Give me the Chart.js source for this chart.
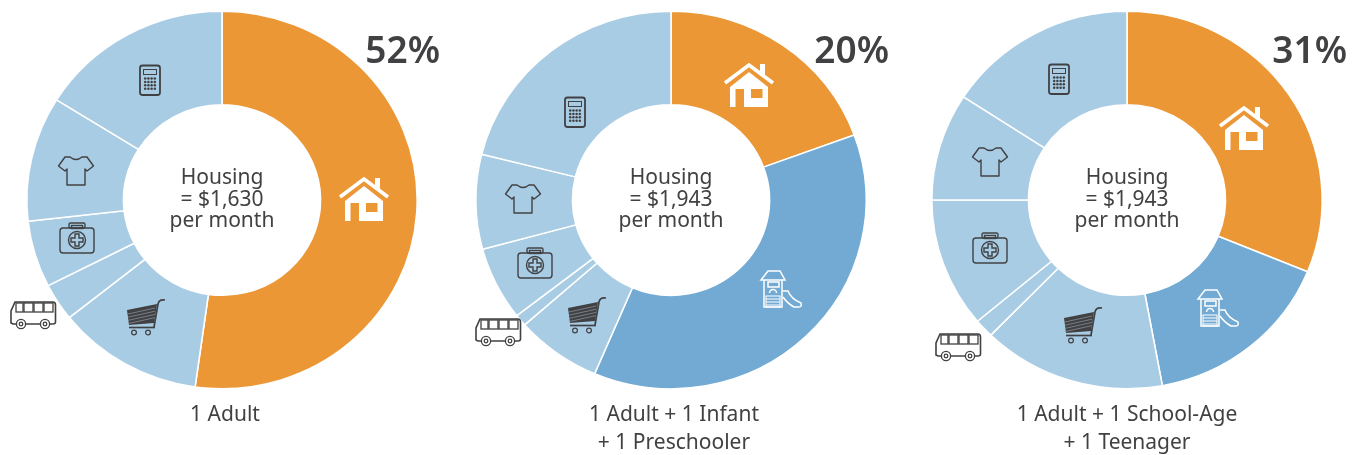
<!DOCTYPE html>
<html>
<head>
<meta charset="utf-8">
<script src="https://cdn.jsdelivr.net/npm/chart.js"></script>
<style>
    html, body { margin: 0; background: #fff; }
    #wrap { position: relative; width: 1361px; height: 455px; overflow: hidden; }
    canvas { position: absolute; top: 0; }
</style>
</head>
<body>
<div id="wrap">
    <canvas id="c0" style="left:0"></canvas>
    <canvas id="c1" style="left:449px"></canvas>
    <canvas id="c2" style="left:905px"></canvas>
</div>
<script>
const categories = ["Housing", "Child care", "Food", "Transportation", "Health care", "Clothing", "Other"];

// share of monthly budget, percent, clockwise from 12 o'clock
const oneAdult = [52.2, 0, 12.1, 3.2, 5.7, 10.7, 16.1];
const adultInfantPreschooler = [19.4, 37.0, 7.1, 1.0, 6.3, 8.1, 21.1];
const adultSchoolTeen = [31.2, 15.9, 15.2, 1.6, 11.1, 9.2, 15.8];

const housingPercent = ["52%", "20%", "31%"];
const housingCost = ["= $1,630", "= $1,943", "= $1,943"];
const captions = [["1 Adult"], ["1 Adult + 1 Infant", "+ 1 Preschooler"], ["1 Adult + 1 School-Age", "+ 1 Teenager"]];

const ORANGE = "#EB9735";
const LIGHT = "#A9CCE5";
const MID = "#72AAD3";
const INK = "#414143";
const FONT = '"Noto Sans", sans-serif';

// the original rings are slightly wider than tall
const STRETCH_X = 1.034;
// Noto Sans runs wider than the original face
const TEXT_SQUEEZE = 0.955;

// icon anchors, px from the doughnut centre (hand placed in the original too)
const iconSpots = [
    { house: [142, -1], cart: [-76, 117], bus: [-189, 114], med: [-145, 38], shirt: [-146, -29], calc: [-72, -120] },
    { house: [78, -115], play: [110, 89], cart: [-84, 115], bus: [-173, 131], med: [-136, 63], shirt: [-148, -1], calc: [-96, -88] },
    { house: [117, -72], play: [91, 108], cart: [-44, 125], bus: [-169, 146], med: [-137, 48], shirt: [-137, -38], calc: [-68, -121] }
];
const captionShift = [3, 3, 0];
const percentRight = [218, 218, 220];

function poly(ctx, pts, close) {
    ctx.beginPath();
    pts.forEach((p, i) => i ? ctx.lineTo(p[0], p[1]) : ctx.moveTo(p[0], p[1]));
    if (close) ctx.closePath();
}

function roundBox(ctx, x, y, w, h, r) {
    ctx.beginPath();
    ctx.roundRect(x, y, w, h, r);
}

function squeezedText(ctx, text, x, y) {
    ctx.save();
    ctx.translate(x, y);
    ctx.scale(TEXT_SQUEEZE, 1);
    ctx.fillText(text, 0, 0);
    ctx.restore();
}

const icons = {
    house(ctx) {
        ctx.fillStyle = "#fff";
        ctx.strokeStyle = "#fff";
        ctx.lineWidth = 3.6;
        poly(ctx, [[-24, -2], [0, -20], [24, -2]]);
        ctx.stroke();
        ctx.fillRect(11, -21, 5, 12);
        poly(ctx, [[-19, 2], [0, -13], [19, 2], [19, 22], [-19, 22]], true);
        ctx.fill();
        ctx.fillStyle = ORANGE;
        ctx.fillRect(-13.5, 4, 8.5, 18);
        ctx.fillRect(2, 4, 11.5, 9);
    },
    play(ctx) {
        ctx.strokeStyle = "#fff";
        ctx.lineWidth = 1.5;
        // roof and posts
        poly(ctx, [[-20, -9], [-13, -18], [-1, -18], [4, -9]], true);
        ctx.stroke();
        poly(ctx, [[-17, -9], [-17, 18], [1, 18], [1, -9]]);
        ctx.stroke();
        ctx.strokeRect(-13, -7, 11, 5);
        // lock arch and ladder
        ctx.beginPath();
        ctx.arc(-8, 4, 3.5, Math.PI, 0);
        ctx.stroke();
        ctx.lineWidth = 1;
        ctx.strokeRect(-15, 7, 14, 11);
        for (let y = 10; y <= 16; y += 3) {
            poly(ctx, [[-15, y], [-1, y]]);
            ctx.stroke();
        }
        // slide
        ctx.lineWidth = 1.5;
        ctx.beginPath();
        ctx.moveTo(2, 2);
        ctx.lineTo(7, 2);
        ctx.quadraticCurveTo(10, 10, 20, 14);
        ctx.quadraticCurveTo(21, 18, 18, 18);
        ctx.lineTo(13, 18);
        ctx.quadraticCurveTo(6, 14, 2, 8);
        ctx.stroke();
    },
    cart(ctx) {
        ctx.fillStyle = INK;
        ctx.strokeStyle = INK;
        poly(ctx, [[-19, -7], [11, -13], [8, 6], [-17, 8]], true);
        ctx.fill();
        ctx.strokeStyle = "#8c98a3";
        ctx.lineWidth = 0.7;
        for (let i = 0; i < 4; i++) {
            poly(ctx, [[-18, -3 + i * 3.2], [9, -9 + i * 3.2]]);
            ctx.stroke();
        }
        ctx.strokeStyle = INK;
        ctx.lineWidth = 1.7;
        ctx.beginPath();
        ctx.moveTo(8, 10);
        ctx.lineTo(12, -13);
        ctx.quadraticCurveTo(13, -18, 19, -17);
        ctx.stroke();
        poly(ctx, [[-17, 10.5], [9, 10.5]]);
        ctx.stroke();
        ctx.lineWidth = 1.2;
        [-12, 2].forEach(x => {
            ctx.beginPath();
            ctx.arc(x, 15.5, 2.4, 0, Math.PI * 2);
            ctx.stroke();
        });
    },
    bus(ctx) {
        ctx.strokeStyle = INK;
        ctx.fillStyle = "#fff";
        ctx.lineWidth = 1.6;
        ctx.beginPath();
        ctx.moveTo(-22, 9);
        ctx.lineTo(-22, -3);
        ctx.lineTo(-18, -12);
        ctx.lineTo(20, -12);
        ctx.quadraticCurveTo(22.5, -12, 22.5, -9);
        ctx.lineTo(22.5, 8);
        ctx.quadraticCurveTo(22.5, 10, 20, 10);
        ctx.lineTo(-20, 10);
        ctx.closePath();
        ctx.fill();
        ctx.stroke();
        ctx.lineWidth = 1.3;
        [[-17, 7], [-9, 9], [1, 9], [11, 9]].forEach(w => ctx.strokeRect(w[0], -11, w[1], 9));
        [-12, 12].forEach(x => {
            ctx.beginPath();
            ctx.arc(x, 10, 4.6, 0, Math.PI * 2);
            ctx.fill();
            ctx.stroke();
            ctx.beginPath();
            ctx.arc(x, 10, 1.8, 0, Math.PI * 2);
            ctx.stroke();
        });
    },
    med(ctx) {
        ctx.strokeStyle = INK;
        ctx.lineWidth = 1.4;
        roundBox(ctx, -17, -10, 34, 25, 3);
        ctx.stroke();
        roundBox(ctx, -8, -15, 16, 5, 1.5);
        ctx.stroke();
        ctx.strokeRect(-5.5, -12.5, 11, 3);
        ctx.beginPath();
        ctx.arc(0, 2, 8.5, 0, Math.PI * 2);
        ctx.stroke();
        poly(ctx, [[-2, -4], [2, -4], [2, 0], [6, 0], [6, 4], [2, 4], [2, 8], [-2, 8], [-2, 4], [-6, 4], [-6, 0], [-2, 0]], true);
        ctx.stroke();
    },
    shirt(ctx) {
        ctx.strokeStyle = INK;
        ctx.lineWidth = 1.4;
        ctx.lineJoin = "round";
        ctx.beginPath();
        ctx.moveTo(-6, -14);
        ctx.quadraticCurveTo(0, -9, 6, -14);
        ctx.lineTo(11, -14);
        ctx.lineTo(17.5, -5);
        ctx.lineTo(11, 0);
        ctx.lineTo(9, -2);
        ctx.lineTo(9, 14);
        ctx.lineTo(-9, 14);
        ctx.lineTo(-9, -2);
        ctx.lineTo(-11, 0);
        ctx.lineTo(-17.5, -5);
        ctx.lineTo(-11, -14);
        ctx.closePath();
        ctx.stroke();
    },
    calc(ctx) {
        ctx.strokeStyle = INK;
        ctx.fillStyle = INK;
        ctx.lineWidth = 1.8;
        roundBox(ctx, -10, -14.5, 20, 29.5, 2.5);
        ctx.stroke();
        ctx.lineWidth = 1;
        ctx.strokeRect(-6.5, -10.5, 13, 5);
        for (let r = 0; r < 4; r++) {
            for (let c = 0; c < 4; c++) {
                ctx.beginPath();
                ctx.arc(-4.8 + c * 3.2, -1.5 + r * 3.4, 1.25, 0, Math.PI * 2);
                ctx.fill();
            }
        }
    }
};

const labelPlugin = {
    id: "budgetLabels",
    beforeDatasetsDraw(chart) {
        const arc = chart.getDatasetMeta(0).data[0];
        const ctx = chart.ctx;
        ctx.save();
        ctx.translate(arc.x, arc.y);
        ctx.scale(STRETCH_X, 1);
        ctx.translate(-arc.x, -arc.y);
    },
    afterDatasetsDraw(chart, args, opts) {
        const ctx = chart.ctx;
        ctx.restore();
        const arc = chart.getDatasetMeta(0).data[0];
        const cx = arc.x, cy = arc.y;

        Object.keys(opts.spots).forEach(name => {
            ctx.save();
            ctx.translate(cx + opts.spots[name][0], cy + opts.spots[name][1]);
            icons[name](ctx);
            ctx.restore();
        });

        ctx.save();
        ctx.fillStyle = INK;
        ctx.textAlign = "center";
        ctx.textBaseline = "alphabetic";
        ctx.font = "22px " + FONT;
        squeezedText(ctx, categories[0], cx, cy - 16);
        squeezedText(ctx, opts.cost, cx, cy + 6);
        squeezedText(ctx, "per month", cx, cy + 27);
        opts.caption.forEach((line, i) => squeezedText(ctx, line, cx + opts.shift, cy + 221 + i * 28));
        ctx.textAlign = "right";
        ctx.font = "600 37px " + FONT;
        ctx.fillText(opts.percent, cx + opts.right, 63);
        ctx.restore();
    }
};

[oneAdult, adultInfantPreschooler, adultSchoolTeen].forEach((values, i) => {
    const canvas = document.getElementById("c" + i);
    canvas.width = 444;
    canvas.height = 455;
    new Chart(canvas, {
        type: "doughnut",
        data: {
            labels: categories,
            datasets: [{
                data: values,
                backgroundColor: [ORANGE, MID, LIGHT, LIGHT, LIGHT, LIGHT, LIGHT],
                borderColor: "#fff",
                borderWidth: 1.5
            }]
        },
        options: {
            responsive: false,
            animation: false,
            cutout: "50.5%",
            layout: { padding: { top: 10.5, bottom: 65.5, left: 0, right: 0 } },
            plugins: {
                legend: { display: false },
                tooltip: { enabled: false },
                budgetLabels: {
                    spots: iconSpots[i],
                    cost: housingCost[i],
                    caption: captions[i],
                    percent: housingPercent[i],
                    shift: captionShift[i],
                    right: percentRight[i]
                }
            }
        },
        plugins: [labelPlugin]
    });
});
</script>
</body>
</html>
